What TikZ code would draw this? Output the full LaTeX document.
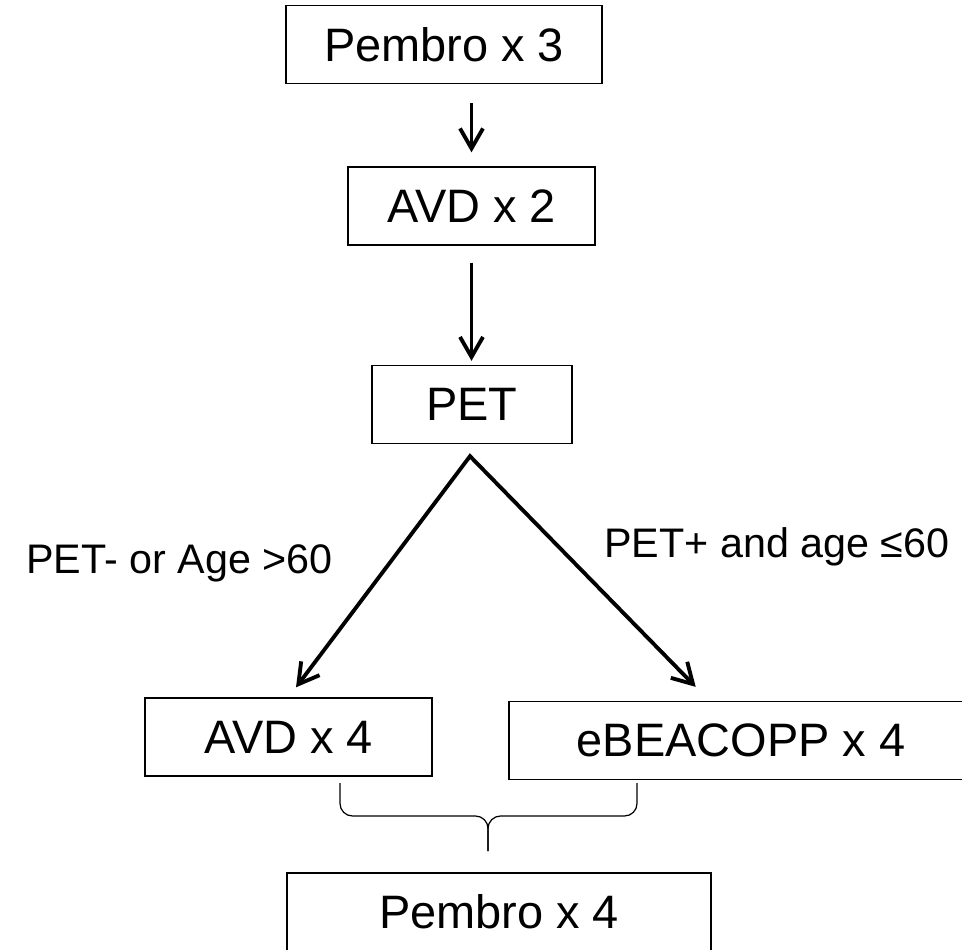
\documentclass[tikz,border=0pt]{standalone}
\usepackage{fontspec}
\setmainfont{Liberation Sans}
\usetikzlibrary{arrows.meta,calc}

\begin{document}
\begin{tikzpicture}[
	x=0.02cm, y=-0.02cm,
	box/.style={draw, line width=0.8pt, inner sep=0pt, minimum height=1.56cm, font=\fontsize{26.7}{32}\selectfont},
	arr/.style={line width=2.2pt, -{Straight Barb[length=0.4cm,width=0.46cm]}},
	twoarr/.style={line width=2.2pt, {Straight Barb[length=0.4cm,width=0.46cm]}-{Straight Barb[length=0.4cm,width=0.46cm]}},
	lbl/.style={inner sep=0pt, anchor=base west, font=\fontsize{23.5}{28}\selectfont},
	curly/.style={line width=0.7pt, rounded corners=0.25cm},
]
	\useasboundingbox (0,0) rectangle (962,949);
	\clip (0,0) rectangle (962,949);

	\node[box, minimum width=6.32cm] (pembroA) at (444,44.5) {Pembro x 3};
	\node[box, minimum width=4.94cm] (avdA) at (471.5,206) {AVD x 2};
	\node[box, minimum width=4cm] (pet) at (472,404.5) {PET};
	\node[box, minimum width=5.74cm] (avdB) at (288.5,737) {AVD x 4};
	\node[box, minimum width=9.28cm] (ebeacopp) at (741,740.5) {eBEACOPP x 4};
	\node[box, minimum width=8.48cm] (pembroB) at (499,912) {Pembro x 4};

	\coordinate (fork) at ($(pet.south)+(-2,12)$);

	\draw[arr, shorten <=0.38cm, shorten >=0.28cm] (pembroA.south -| avdA.north) -- (avdA.north);
	\draw[arr, shorten <=0.34cm, shorten >=0.08cm] (avdA.south) -- (pet.north -| avdA.south);
	\draw[twoarr, shorten <=0.25cm, shorten >=0.39cm] (avdB.north) -- (fork) -- ($(ebeacopp.north west)+(201,0)$);

	\node[lbl] (neg) at (26,573) {PET- or Age >60};
	\node[lbl] (pos) at (604,557) {PET+ and age ≤60};

	\draw[curly] (340,783) -- (340,816) -- (488,816) -- (488,851);
	\draw[curly] (637,783) -- (637,816) -- (488,816) -- (488,851);

\end{tikzpicture}
\end{document}
